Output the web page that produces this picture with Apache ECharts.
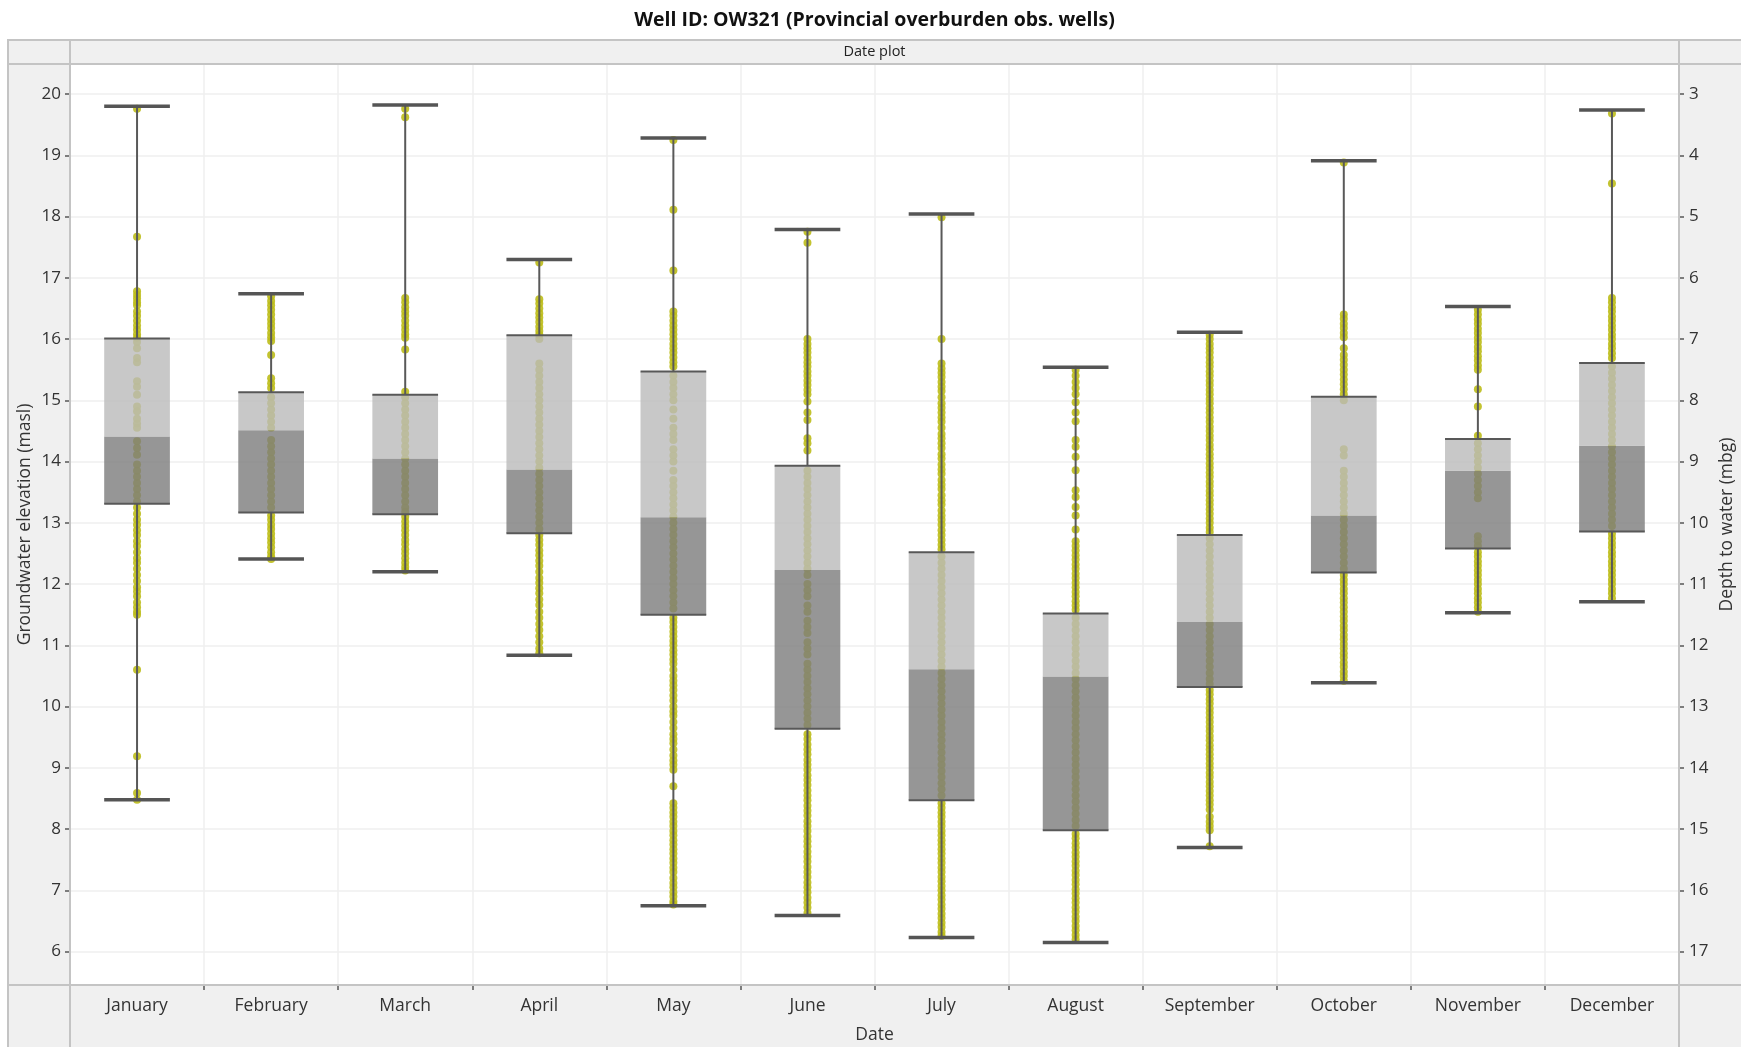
<!DOCTYPE html>
<html>
<head>
<meta charset="utf-8">
<title>Well ID: OW321</title>
<script src="https://cdn.jsdelivr.net/npm/echarts@6/dist/echarts.min.js"></script>
<style>
  html, body { margin: 0; padding: 0; background: #fff; }
  #chart { width: 1741px; height: 1047px; }
</style>
</head>
<body>
<div id="chart"></div>
<script>
// months on the x axis
const months = ['January', 'February', 'March', 'April', 'May', 'June', 'July',
  'August', 'September', 'October', 'November', 'December']

// box statistics (masl)
const whiskerMin = [8.48, 12.41, 12.20, 10.84, 6.75, 6.59, 6.23, 6.15, 7.70, 10.39, 11.53, 11.71]
const q1 = [13.31, 13.17, 13.14, 12.83, 11.50, 9.64, 8.47, 7.98, 10.32, 12.19, 12.58, 12.86]
const median = [14.41, 14.51, 14.05, 13.87, 13.09, 12.23, 10.61, 10.49, 11.38, 13.12, 13.85, 14.26]
const q3 = [16.01, 15.13, 15.09, 16.06, 15.47, 13.93, 12.52, 11.52, 12.80, 15.06, 14.37, 15.61]
const whiskerMax = [19.80, 16.74, 19.82, 17.30, 19.28, 17.79, 18.04, 15.54, 16.11, 18.91, 16.53, 19.74]

// individual observations (masl)
const obsJan = [19.76, 17.67, 16.78, 16.72, 16.66, 16.6, 16.55, 16.45, 16.38, 16.3, 16.22, 16.15, 16.08, 16.02,
  15.95, 15.85, 15.69, 15.62, 15.31, 15.22, 15.09, 14.9, 14.82, 14.7, 14.62, 14.55, 14.33, 14.22, 14.11,
  13.95, 13.85, 13.75, 13.65, 13.55, 13.45, 13.35,
  13.25, 13.15, 13.05, 12.97, 12.88, 12.8, 12.7, 12.62, 12.52, 12.42, 12.35, 12.25, 12.15, 12.05, 11.95,
  11.88, 11.8, 11.7, 11.62, 11.55, 11.5, 10.6, 9.19, 8.59, 8.48]
const obsFeb = [16.7, 16.62, 16.55, 16.48, 16.4, 16.32, 16.25, 16.18, 16.1, 16.03, 15.97, 15.74, 15.36, 15.28, 15.2,
  15.05, 14.95, 14.85, 14.75, 14.65, 14.55, 14.35, 14.25, 14.15, 14.05, 13.95, 13.85, 13.75, 13.65, 13.55,
  13.45, 13.35, 13.25,
  13.12, 13.05, 12.97, 12.9, 12.82, 12.75, 12.68, 12.6, 12.52, 12.45, 12.41]
const obsMar = [19.76, 19.62, 16.67, 16.6, 16.52, 16.45, 16.38, 16.3, 16.22, 16.15, 16.08, 16.02, 15.83, 15.14,
  15.05, 14.95, 14.85, 14.75, 14.65, 14.55, 14.45, 14.35, 14.25, 14.15, 14.05, 13.95, 13.85, 13.75, 13.65,
  13.55, 13.45, 13.35, 13.25, 13.18,
  13.1, 13.02, 12.95, 12.88, 12.8, 12.72, 12.65, 12.57, 12.5, 12.42, 12.35, 12.28, 12.22]
const obsApr = [17.25, 16.65, 16.58, 16.5, 16.42, 16.35, 16.28, 16.2, 16.13, 16.07,
  16.0, 15.6, 15.5, 15.4, 15.3, 15.2, 15.1, 15.0, 14.9, 14.8, 14.7, 14.6, 14.5, 14.4, 14.3, 14.2, 14.1,
  14.0, 13.9, 13.8, 13.7, 13.6, 13.5, 13.4, 13.3, 13.2, 13.1, 13.0, 12.9,
  12.8, 12.72, 12.64, 12.55, 12.47, 12.38, 12.3, 12.2, 12.1, 12.02, 11.93, 11.85, 11.75, 11.66, 11.55,
  11.45, 11.35, 11.25, 11.15, 11.05, 10.95, 10.87]
const obsMay = [19.25, 18.11, 17.12, 16.45, 16.38, 16.3, 16.22, 16.15, 16.08, 16.0, 15.92, 15.85, 15.78, 15.7,
  15.62, 15.55,
  15.4, 15.3, 15.2, 15.1, 15.0, 14.85, 14.7, 14.55, 14.45, 14.35, 14.2, 14.1, 14.0, 13.85, 13.7, 13.6,
  13.5, 13.4, 13.3, 13.2, 13.1, 13.0, 12.9, 12.8, 12.7, 12.6, 12.5, 12.4, 12.3, 12.2, 12.1, 12.0, 11.9,
  11.8, 11.7, 11.6,
  11.45, 11.38, 11.3, 11.22, 11.15, 11.07, 11.0, 10.92, 10.85, 10.77, 10.7, 10.6, 10.5, 10.42, 10.35,
  10.27, 10.18, 10.1, 10.0, 9.92, 9.85, 9.75, 9.65, 9.55, 9.47, 9.4, 9.3, 9.2, 9.12, 9.05, 8.97, 8.7,
  8.42, 8.35, 8.27, 8.2, 8.12, 8.05, 7.97, 7.9, 7.82, 7.75, 7.67, 7.6, 7.52, 7.45, 7.37, 7.3, 7.2, 7.12,
  7.05, 6.97, 6.9, 6.82, 6.77]
const obsJun = [17.75, 17.57, 16.0, 15.92, 15.85, 15.78, 15.7, 15.62, 15.55, 15.47, 15.4, 15.32, 15.25, 15.17,
  15.1, 14.98, 14.8, 14.68, 14.38, 14.3, 14.18,
  13.85, 13.75, 13.65, 13.55, 13.45, 13.35, 13.25, 13.15, 13.05, 12.95, 12.85, 12.75, 12.65, 12.55, 12.45,
  12.35, 12.25, 12.15, 12.0, 11.9, 11.8, 11.65, 11.55, 11.4, 11.3, 11.2, 11.05, 10.95, 10.85, 10.7, 10.6,
  10.5, 10.4, 10.3, 10.2, 10.1, 10.0, 9.9, 9.8, 9.7,
  9.55, 9.47, 9.38, 9.3, 9.22, 9.13, 9.05, 8.97, 8.88, 8.8, 8.72, 8.63, 8.55, 8.47, 8.38, 8.3, 8.22,
  8.13, 8.05, 7.97, 7.88, 7.8, 7.72, 7.63, 7.55, 7.47, 7.38, 7.3, 7.22, 7.13, 7.05, 6.97, 6.88, 6.8,
  6.72, 6.63]
const obsJul = [17.99, 16.0, 15.6, 15.52, 15.45, 15.38, 15.3, 15.22, 15.15, 15.05, 14.95, 14.88, 14.8, 14.72,
  14.65, 14.55, 14.45, 14.38, 14.3, 14.22, 14.12, 14.05, 13.95, 13.87, 13.8, 13.7, 13.62, 13.55, 13.45,
  13.37, 13.3, 13.2, 13.12, 13.05, 12.97, 12.88, 12.8, 12.72, 12.64, 12.57,
  12.45, 12.35, 12.25, 12.15, 12.05, 11.95, 11.85, 11.75, 11.65, 11.55, 11.45, 11.35, 11.25, 11.15,
  11.05, 10.95, 10.85, 10.75, 10.65, 10.55, 10.45, 10.35, 10.25, 10.15, 10.05, 9.95, 9.85, 9.75, 9.65,
  9.55, 9.45, 9.35, 9.25, 9.15, 9.05, 8.95, 8.85, 8.75, 8.65, 8.55,
  8.42, 8.35, 8.27, 8.2, 8.12, 8.05, 7.97, 7.9, 7.82, 7.75, 7.67, 7.6, 7.52, 7.45, 7.37, 7.3, 7.22,
  7.15, 7.07, 7.0, 6.92, 6.85, 6.77, 6.7, 6.62, 6.55, 6.47, 6.4, 6.32, 6.26]
const obsAug = [15.5, 15.4, 15.3, 15.2, 15.1, 14.97, 14.8, 14.66, 14.35, 14.24, 14.08, 13.86, 13.53, 13.42,
  13.26, 13.12, 12.89, 12.7, 12.62, 12.55, 12.47, 12.4, 12.32, 12.25, 12.17, 12.1, 12.02, 11.95, 11.87,
  11.8, 11.72, 11.65, 11.58,
  11.45, 11.35, 11.25, 11.15, 11.05, 10.95, 10.85, 10.75, 10.65, 10.55, 10.45, 10.35, 10.25, 10.15,
  10.05, 9.95, 9.85, 9.75, 9.65, 9.55, 9.45, 9.35, 9.25, 9.15, 9.05, 8.95, 8.85, 8.75, 8.65, 8.55,
  8.45, 8.35, 8.25, 8.15, 8.05,
  7.92, 7.85, 7.77, 7.7, 7.62, 7.55, 7.47, 7.4, 7.32, 7.25, 7.17, 7.1, 7.02, 6.95, 6.87, 6.8, 6.72,
  6.65, 6.57, 6.5, 6.42, 6.35, 6.27, 6.2]
const obsSep = [16.07, 16.0, 15.92, 15.85, 15.78, 15.7, 15.62, 15.55, 15.47, 15.4, 15.32, 15.25, 15.17, 15.1,
  15.02, 14.95, 14.87, 14.8, 14.72, 14.65, 14.57, 14.5, 14.42, 14.35, 14.27, 14.2, 14.12, 14.05, 13.97,
  13.9, 13.82, 13.75, 13.67, 13.6, 13.52, 13.45, 13.37, 13.3, 13.22, 13.15, 13.07, 13.0, 12.92, 12.85,
  12.75, 12.65, 12.55, 12.45, 12.35, 12.25, 12.15, 12.05, 11.95, 11.85, 11.75, 11.65, 11.55, 11.45,
  11.35, 11.25, 11.15, 11.05, 10.95, 10.85, 10.75, 10.65, 10.55, 10.45, 10.37,
  10.27, 10.2, 10.12, 10.05, 9.97, 9.9, 9.82, 9.75, 9.67, 9.6, 9.52, 9.45, 9.37, 9.3, 9.22, 9.15, 9.07,
  9.0, 8.92, 8.85, 8.77, 8.7, 8.62, 8.55, 8.47, 8.4, 8.32, 8.2, 8.12, 8.05, 7.98, 7.72]
const obsOct = [18.88, 16.4, 16.33, 16.25, 16.18, 16.1, 16.03, 15.85, 15.74, 15.66, 15.58, 15.5, 15.42, 15.34,
  15.26, 15.18, 15.1,
  15.0, 14.2, 14.1, 13.85, 13.75, 13.65, 13.55, 13.45, 13.35, 13.25, 13.15, 13.05, 12.95, 12.85, 12.75,
  12.65, 12.55, 12.45, 12.35, 12.25,
  12.15, 12.07, 12.0, 11.92, 11.85, 11.77, 11.7, 11.62, 11.55, 11.47, 11.4, 11.32, 11.25, 11.17, 11.1,
  11.02, 10.95, 10.87, 10.8, 10.72, 10.65, 10.57, 10.5, 10.42]
const obsNov = [16.48, 16.4, 16.32, 16.25, 16.17, 16.1, 16.02, 15.95, 15.87, 15.8, 15.72, 15.65, 15.57, 15.5,
  15.18, 14.9, 14.42,
  14.3, 14.2, 14.1, 14.0, 13.9, 13.8, 13.7, 13.6, 13.5, 13.4, 12.78, 12.7, 12.62,
  12.52, 12.45, 12.37, 12.3, 12.22, 12.15, 12.07, 12.0, 11.92, 11.85, 11.77, 11.7, 11.62, 11.55]
const obsDec = [19.68, 18.54, 16.67, 16.6, 16.52, 16.45, 16.37, 16.3, 16.22, 16.15, 16.07, 16.0, 15.92, 15.85,
  15.77, 15.69,
  15.55, 15.45, 15.35, 15.25, 15.15, 15.05, 14.95, 14.85, 14.75, 14.65, 14.55, 14.45, 14.35, 14.25,
  14.15, 14.05, 13.95, 13.85, 13.75, 13.65, 13.55, 13.45, 13.35, 13.25, 13.15, 13.05, 12.95,
  12.82, 12.75, 12.67, 12.6, 12.52, 12.45, 12.37, 12.3, 12.22, 12.15, 12.07, 12.0, 11.92, 11.85, 11.77]

// axis ranges and tick labels
const elevMin = 5.455
const elevMax = 20.49
const groundLevel = 23 // depth = ground - elevation
const elevTicks = [6, 7, 8, 9, 10, 11, 12, 13, 14, 15, 16, 17, 18, 19, 20]
const depthTicks = [3, 4, 5, 6, 7, 8, 9, 10, 11, 12, 13, 14, 15, 16, 17]

const fontFamily = '"Open Sans", "Noto Sans", sans-serif'
const textColor = '#333'
const frameColor = '#c4c4c4'

const observations = [obsJan, obsFeb, obsMar, obsApr, obsMay, obsJun, obsJul, obsAug, obsSep, obsOct, obsNov, obsDec]
const pointData = []
observations.forEach((list, i) => list.forEach((v) => pointData.push([i, v])))
const boxData = months.map((m, i) => [i, whiskerMin[i], q1[i], median[i], q3[i], whiskerMax[i]])

const boxRatio = 0.49

// whisker stems, only outside the box
function renderWhisker(params, api) {
  const i = api.value(0)
  const lo = api.coord([i, api.value(1)])
  const b1 = api.coord([i, api.value(2)])
  const b3 = api.coord([i, api.value(4)])
  const hi = api.coord([i, api.value(5)])
  const style = { stroke: '#595959', lineWidth: 2 }
  return {
    type: 'group',
    children: [
      { type: 'line', shape: { x1: lo[0], y1: lo[1], x2: b1[0], y2: b1[1] }, style },
      { type: 'line', shape: { x1: b3[0], y1: b3[1], x2: hi[0], y2: hi[1] }, style }
    ]
  }
}

// two-tone box (lower quartile dark, upper quartile light)
function renderBox(params, api) {
  const i = api.value(0)
  const w = api.size([1, 0])[0] * boxRatio
  const pQ1 = api.coord([i, api.value(2)])
  const pMed = api.coord([i, api.value(3)])
  const pQ3 = api.coord([i, api.value(4)])
  const x = pQ1[0] - w / 2
  const edge = { stroke: '#585858', lineWidth: 2 }
  return {
    type: 'group',
    children: [
      { type: 'rect', shape: { x, y: pMed[1], width: w, height: pQ1[1] - pMed[1] }, style: { fill: '#7c7c7c', opacity: 0.8 } },
      { type: 'rect', shape: { x, y: pQ3[1], width: w, height: pMed[1] - pQ3[1] }, style: { fill: '#bababa', opacity: 0.8 } },
      { type: 'line', shape: { x1: x, y1: pQ3[1], x2: x + w, y2: pQ3[1] }, style: edge },
      { type: 'line', shape: { x1: x, y1: pQ1[1], x2: x + w, y2: pQ1[1] }, style: edge }
    ]
  }
}

// whisker caps
function renderCaps(params, api) {
  const i = api.value(0)
  const w = api.size([1, 0])[0] * boxRatio
  const lo = api.coord([i, api.value(1)])
  const hi = api.coord([i, api.value(5)])
  const style = { stroke: '#555', lineWidth: 3.5 }
  return {
    type: 'group',
    children: [
      { type: 'line', shape: { x1: lo[0] - w / 2, y1: lo[1], x2: lo[0] + w / 2, y2: lo[1] }, style },
      { type: 'line', shape: { x1: hi[0] - w / 2, y1: hi[1], x2: hi[0] + w / 2, y2: hi[1] }, style }
    ]
  }
}

const chart = echarts.init(document.getElementById('chart'), null, { renderer: 'canvas' })

const option = {
  animation: false,
  backgroundColor: '#fff',
  textStyle: { fontFamily },
  graphic: [
    // grey frame behind the plot
    { type: 'rect', z: -10, shape: { x: 8, y: 40, width: 1745, height: 1020 }, style: { fill: '#f0f0f0', stroke: frameColor, lineWidth: 2 } },
    { type: 'rect', z: -9, shape: { x: 70, y: 64, width: 1609, height: 921 }, style: { fill: '#fff' } },
    { type: 'line', z: 50, shape: { x1: 70, y1: 40, x2: 70, y2: 1047 }, style: { stroke: frameColor, lineWidth: 2 } },
    { type: 'line', z: 50, shape: { x1: 1679, y1: 40, x2: 1679, y2: 1047 }, style: { stroke: frameColor, lineWidth: 2 } },
    { type: 'line', z: 50, shape: { x1: 8, y1: 64, x2: 1741, y2: 64 }, style: { stroke: frameColor, lineWidth: 2 } },
    { type: 'line', z: 50, shape: { x1: 8, y1: 985, x2: 1741, y2: 985 }, style: { stroke: frameColor, lineWidth: 2 } },
    {
      type: 'text', z: 50, x: 874.5, y: 20,
      style: { text: 'Well ID: OW321 (Provincial overburden obs. wells)', fill: '#111', font: 'bold 19.5px ' + fontFamily, textAlign: 'center', textVerticalAlign: 'middle' }
    },
    {
      type: 'text', z: 50, x: 874.5, y: 52,
      style: { text: 'Date plot', fill: '#222', font: '14.5px ' + fontFamily, textAlign: 'center', textVerticalAlign: 'middle' }
    }
  ],
  grid: { left: 70, right: 62, top: 64, bottom: 62, containLabel: false, outerBoundsMode: 'none' },
  xAxis: {
    type: 'category',
    data: months,
    boundaryGap: true,
    name: 'Date',
    nameLocation: 'middle',
    nameGap: 41,
    nameTextStyle: { fontSize: 17.5, color: textColor, fontFamily },
    axisLine: { show: false },
    axisTick: { show: true, interval: 0, length: 5, lineStyle: { color: '#555', width: 1.5 } },
    axisLabel: { interval: 0, fontSize: 17.5, color: textColor, margin: 12, fontFamily },
    splitLine: { show: true, interval: 0, lineStyle: { color: '#efefef', width: 1.5 } }
  },
  yAxis: [
    {
      type: 'value',
      position: 'left',
      min: elevMin,
      max: elevMax,
      name: 'Groundwater elevation (masl)',
      nameLocation: 'middle',
      nameRotate: 90,
      nameGap: 36,
      nameMoveOverlap: false,
      nameTextStyle: { fontSize: 17.5, color: textColor, fontFamily },
      axisLine: { show: false },
      axisTick: { show: true, length: 5, customValues: elevTicks, lineStyle: { color: '#555', width: 1.5 } },
      axisLabel: { customValues: elevTicks, fontSize: 17, color: textColor, margin: 9, fontFamily },
      splitLine: { show: true, lineStyle: { color: '#efefef', width: 1.5 } }
    },
    {
      type: 'value',
      position: 'right',
      inverse: true,
      min: groundLevel - elevMax,
      max: groundLevel - elevMin,
      name: 'Depth to water (mbg)',
      nameLocation: 'middle',
      nameRotate: 90,
      nameGap: 39,
      nameMoveOverlap: false,
      nameTextStyle: { fontSize: 17.5, color: textColor, fontFamily },
      axisLine: { show: false },
      axisTick: { show: true, length: 5, customValues: depthTicks, lineStyle: { color: '#555', width: 1.5 } },
      axisLabel: { customValues: depthTicks, fontSize: 17, color: textColor, margin: 10, fontFamily },
      splitLine: { show: false }
    }
  ],
  series: [
    {
      name: 'Observations',
      type: 'scatter',
      z: 2,
      symbolSize: 8,
      itemStyle: { color: '#bcbc1a', opacity: 0.9 },
      data: pointData
    },
    {
      name: 'Whiskers',
      type: 'custom',
      z: 3,
      renderItem: renderWhisker,
      encode: { x: 0, y: [1, 2, 3, 4, 5] },
      data: boxData
    },
    {
      name: 'Boxes',
      type: 'custom',
      z: 4,
      renderItem: renderBox,
      encode: { x: 0, y: [1, 2, 3, 4, 5] },
      data: boxData
    },
    {
      name: 'Caps',
      type: 'custom',
      z: 5,
      renderItem: renderCaps,
      encode: { x: 0, y: [1, 2, 3, 4, 5] },
      data: boxData
    }
  ]
}

chart.setOption(option)
</script>
</body>
</html>
